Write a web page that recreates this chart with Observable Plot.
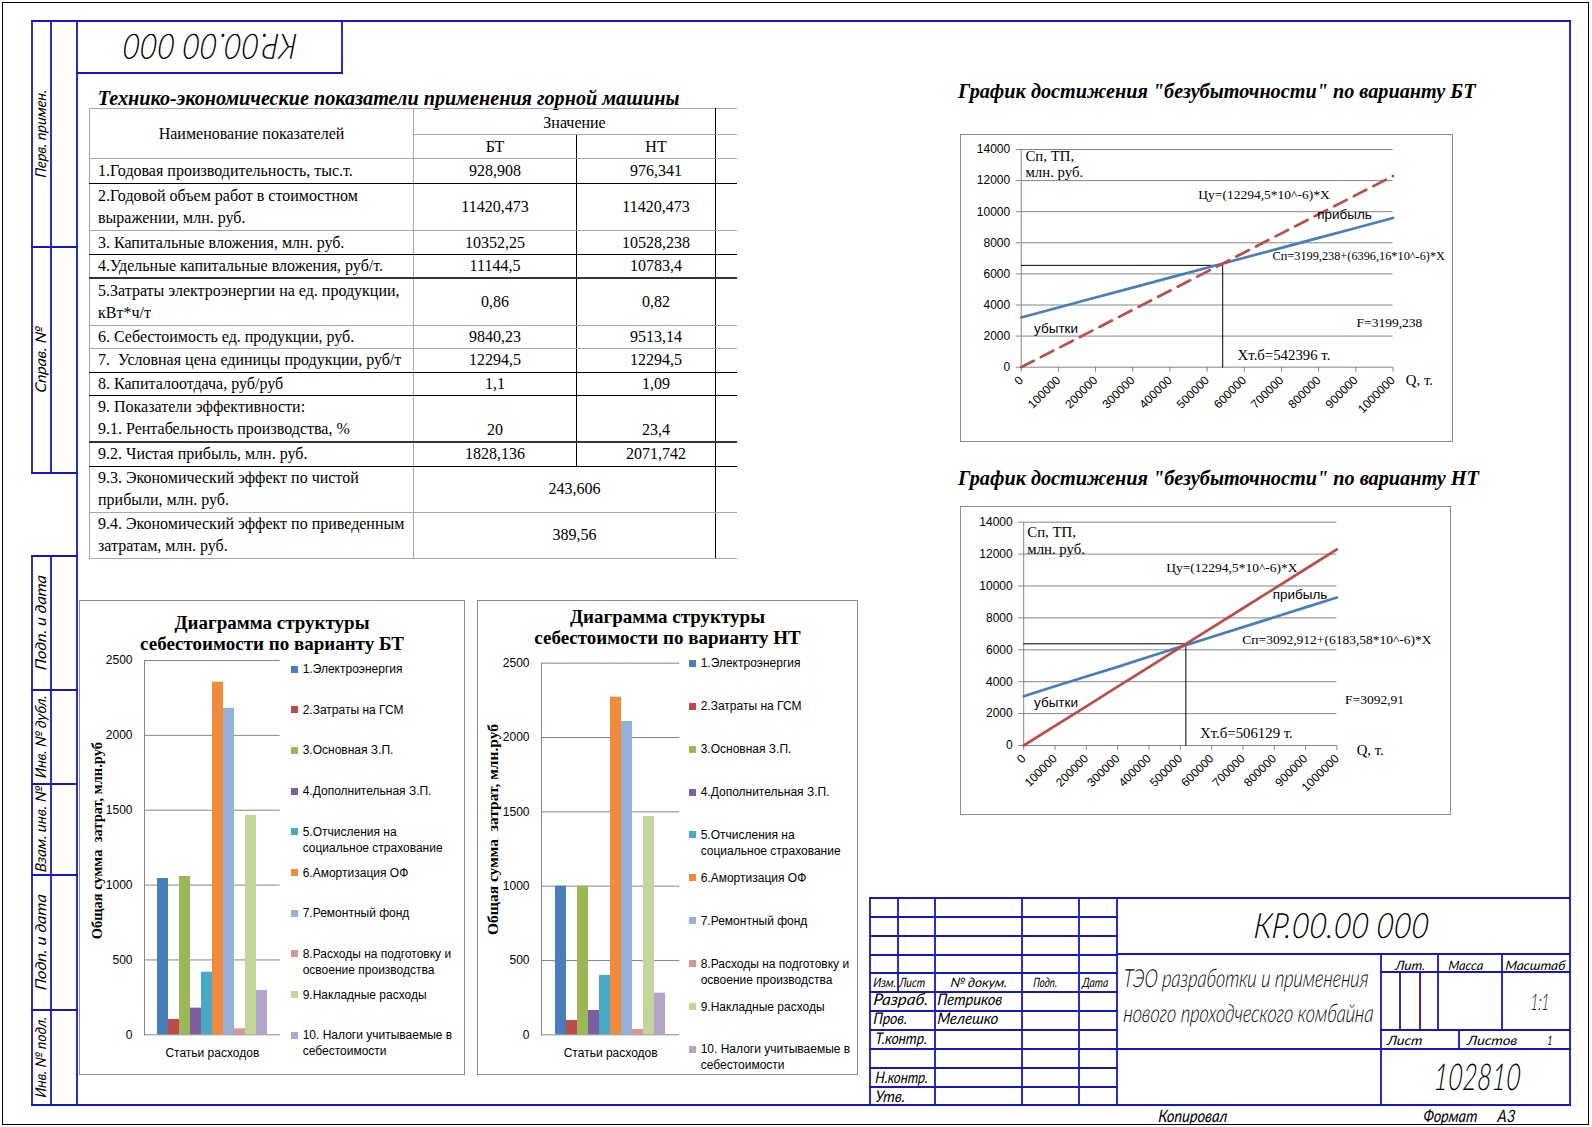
<!DOCTYPE html>
<html lang="ru"><head><meta charset="utf-8">
<script src="https://cdn.jsdelivr.net/npm/d3@7"></script>
<script src="https://cdn.jsdelivr.net/npm/@observablehq/plot@0.6"></script>
<style>
html,body{margin:0;padding:0;background:#fff}
#page{position:relative;width:1592px;height:1127px;overflow:hidden;background:#fff}
.abs{position:absolute}
.tbi{position:absolute;font-family:"Liberation Serif","Times New Roman",serif;font-weight:bold;font-style:italic;white-space:nowrap;color:#000;font-size:19px}
table.teo{position:absolute;border-collapse:collapse;table-layout:fixed;font-family:"Liberation Serif","Times New Roman",serif;font-size:16px;color:#000}
table.teo td{padding:0;white-space:pre;line-height:22px;vertical-align:middle;overflow:visible}
.box{position:absolute;border:1px solid #8c8c8c;box-sizing:border-box;background:#fff}
.btitle{position:absolute;font-family:"Liberation Serif","Times New Roman",serif;font-weight:bold;font-size:19px;line-height:21px;text-align:center;color:#000;white-space:pre}
.leg{position:absolute;font-family:"Liberation Sans",Arial,sans-serif;font-size:12px;line-height:16px;color:#000;white-space:pre}
.key{position:absolute;width:7px;height:7px}
</style></head>
<body><div id="page"></div>
<script>
// ---------------- DATA ----------------
const indicatorNames = [
  "1.Годовая производительность, тыс.т.",
  "2.Годовой объем работ в стоимостном\nвыражении, млн. руб.",
  "3. Капитальные вложения, млн. руб.",
  "4.Удельные капитальные вложения, руб/т.",
  "5.Затраты электроэнергии на ед. продукции,\nкВт*ч/т",
  "6. Себестоимость ед. продукции, руб.",
  "7.  Условная цена единицы продукции, руб/т",
  "8. Капиталоотдача, руб/руб",
  "9. Показатели эффективности:\n9.1. Рентабельность производства, %",
  "9.2. Чистая прибыль, млн. руб.",
  "9.3. Экономический эффект по чистой\nприбыли, млн. руб.",
  "9.4. Экономический эффект по приведенным\nзатратам, млн. руб."
];
const indicatorBT = ["928,908","11420,473","10352,25","11144,5","0,86","9840,23","12294,5","1,1","20","1828,136","243,606","389,56"];
const indicatorNT = ["976,341","11420,473","10528,238","10783,4","0,82","9513,14","12294,5","1,09","23,4","2071,742",null,null];

const costItems = [
  "1.Электроэнергия",
  "2.Затраты на ГСМ",
  "3.Основная З.П.",
  "4.Дополнительная З.П.",
  "5.Отчисления на\nсоциальное страхование",
  "6.Амортизация ОФ",
  "7.Ремонтный фонд",
  "8.Расходы на подготовку и\nосвоение производства",
  "9.Накладные расходы",
  "10. Налоги учитываемые в\nсебестоимости"
];
const costBT = [1044, 102, 1057, 178, 418, 2355, 2181, 40, 1465, 296];
const costNT = [1000, 96, 1000, 164, 399, 2271, 2108, 36, 1469, 280];
const costYTicks = [0, 500, 1000, 1500, 2000, 2500];

const qValues = [0,100000,200000,300000,400000,500000,600000,700000,800000,900000,1000000];
const beYTicks = [0,2000,4000,6000,8000,10000,12000,14000];
const priceBT = [0,1229,2459,3688,4918,6147,7377,8606,9836,11065,12295];
const costLineBT = [3199,3839,4478,5118,5758,6397,7037,7677,8316,8956,9595];
const priceNT = [0,1229,2459,3688,4918,6147,7377,8606,9836,11065,12295];
const costLineNT = [3093,3710,4330,4930,5560,6185,6803,7421,8040,8658,9277];
const guideBT = [{q:0,v:6550},{q:542000,v:6550},{q:542000,v:0}];
const guideNT = [{q:0,v:6375},{q:517700,v:6375},{q:517700,v:0}];
const notesBT = [
  {q:11500,v:13550,t:"Сп, ТП,"},{q:11500,v:12540,t:"млн. руб."},
  {q:476500,v:11100,t:"Цу=(12294,5*10^-6)*X"},
  {q:676000,v:7120,t:"Сп=3199,238+(6396,16*10^-6)*X"},
  {q:902000,v:2890,t:"F=3199,238"},
  {q:582000,v:790,t:"Хт.б=542396 т."},
  {q:1034600,v:-860,t:"Q, т."}
];
const notesBTsans = [{q:796000,v:9800,t:"прибыль"},{q:34600,v:2470,t:"убытки"}];
const notesNT = [
  {q:11400,v:13375,t:"Сп, ТП,"},{q:11400,v:12290,t:"млн. руб."},
  {q:455000,v:11140,t:"Цу=(12294,5*10^-6)*X"},
  {q:698000,v:6625,t:"Сп=3092,912+(6183,58*10^-6)*X"},
  {q:1026000,v:2863,t:"F=3092,91"},
  {q:563000,v:794,t:"Хт.б=506129 т."},
  {q:1063000,v:-313,t:"Q, т."}
];
const notesNTsans = [{q:795000,v:9447,t:"прибыль"},{q:33000,v:2675,t:"убытки"}];

// ---------------- STYLE ----------------
const SERIF = '"Liberation Serif","Times New Roman",serif';
const SANS = '"Liberation Sans",Arial,sans-serif';
const GOST = 'Lato,"DejaVu Sans",sans-serif';
const INK = "#1616c8";
const GRID = "#868686";
const costColors = ["#4A7EBB","#BE4B48","#98B954","#7D5FA0","#46AAC5","#F08A3C","#95B1D8","#DA9694","#C3D69B","#B3A5CA"];
const page = document.getElementById("page");

function el(tag, cls, css, parent = page) {
  const e = document.createElement(tag);
  if (cls) e.className = cls;
  Object.assign(e.style, css || {});
  parent.appendChild(e);
  return e;
}
function fitWidth(e, target) {
  const w = e.getBoundingClientRect().width;
  const fs = parseFloat(getComputedStyle(e).fontSize);
  e.style.fontSize = (fs * target / w) + "px";
}
function title(text, left, cy, target) {
  const t = el("div", "tbi", {left: left + "px", top: (cy - 12) + "px", lineHeight: "24px"});
  t.textContent = text;
  fitWidth(t, target);
}

// ---------------- TABLE ----------------
title("Технико-экономические показатели применения горной машины", 97.7, 98, 582);
{
  const G = "1px solid #a6a6a6", K = "1px solid #000", K2 = "2px solid #333";
  const rowH = [25,47,24,23,47,23,24,23,47,24,46,46];
  const rowB = [K,G,K,K2,G,G,K,K,K2,K,G,G];
  const tbl = el("table", "teo", {left: "89px", top: "108px", width: "647px"});
  const cg = document.createElement("colgroup");
  [324,163,139,21].forEach(w => { const c = document.createElement("col"); c.style.width = w + "px"; cg.appendChild(c); });
  tbl.appendChild(cg);
  const tb = document.createElement("tbody"); tbl.appendChild(tb);
  const td = (tr, text, css, attrs = {}) => { const c = document.createElement("td"); c.textContent = text ?? ""; Object.assign(c.style, css); Object.entries(attrs).forEach(([k,v]) => c.setAttribute(k, v)); tr.appendChild(c); return c; };
  let tr = document.createElement("tr"); tb.appendChild(tr); tr.style.height = "25px";
  td(tr, "Наименование показателей", {borderTop:G,borderLeft:G,borderRight:G,borderBottom:G,textAlign:"center"}, {rowspan:2});
  td(tr, "Значение", {borderTop:G,borderBottom:G,borderRight:K,textAlign:"center",paddingLeft:"20px",paddingTop:"3px"}, {colspan:2});
  td(tr, "", {borderTop:G,borderBottom:G});
  tr = document.createElement("tr"); tb.appendChild(tr); tr.style.height = "24px";
  td(tr, "БТ", {borderRight:K,borderBottom:G,textAlign:"center"});
  td(tr, "НТ", {borderRight:K,borderBottom:G,textAlign:"center",paddingLeft:"20px"});
  td(tr, "", {borderBottom:G});
  indicatorNames.forEach((name, i) => {
    tr = document.createElement("tr"); tb.appendChild(tr); tr.style.height = rowH[i] + "px";
    const b = rowB[i];
    td(tr, name, {borderLeft:G,borderRight:G,borderBottom:b,paddingLeft:"8px",textAlign:"left"});
    const va = i === 8 ? "bottom" : "middle";
    if (indicatorNT[i] === null) {
      td(tr, indicatorBT[i], {borderRight:K,borderBottom:b,textAlign:"center",paddingLeft:"20px"}, {colspan:2});
    } else {
      td(tr, indicatorBT[i], {borderRight:K,borderBottom:b,textAlign:"center",verticalAlign:va});
      td(tr, indicatorNT[i], {borderRight:K,borderBottom:b,textAlign:"center",paddingLeft:"20px",verticalAlign:va});
    }
    td(tr, "", {borderBottom:b});
  });
}

// ---------------- BREAK-EVEN CHARTS ----------------
function noteSize(t) {
  if (t.startsWith("Сп=3199")) return 12.3;
  if (t.startsWith("Сп=") || t.startsWith("Цу") || t.startsWith("F=")) return 13.5;
  return 14.8;
}
function breakEven(c) {
  const rows = qValues.map((q, i) => ({q, price: c.price[i], cost: c.cost[i]}));
  return Plot.plot({
    width: c.w, height: c.h,
    marginLeft: c.ml, marginRight: c.mr, marginTop: c.mt, marginBottom: c.mb,
    style: {background: "transparent", overflow: "visible", fontFamily: SANS, fontSize: "12px", color: "#000"},
    x: {domain: [0, 1000000]},
    y: {domain: [0, 14000]},
    marks: [
      Plot.ruleY(beYTicks, {stroke: GRID, strokeWidth: 1}),
      Plot.ruleX([0], {y1: 0, y2: 14000, stroke: GRID}),
      Plot.axisX({ticks: qValues, tickFormat: d => String(d), tickRotate: -45, tickSize: 5, tickPadding: 6, stroke: GRID, fill: "#000", label: null}),
      Plot.axisY({ticks: beYTicks, tickFormat: d => String(d), tickSize: 5, tickPadding: 6, stroke: GRID, fill: "#000", label: null}),
      Plot.line(c.guide, {x: "q", y: "v", stroke: "#000", strokeWidth: 1}),
      Plot.line(rows, {x: "q", y: "cost", stroke: "#4A7EBB", strokeWidth: 2.7}),
      Plot.line(rows, {x: "q", y: "price", stroke: "#BE4B48", strokeWidth: 2.7, strokeDasharray: c.dashed ? "14,8" : null}),
      Plot.text(c.notes, {x: "q", y: "v", text: "t", textAnchor: "start", fontFamily: SERIF, fontSize: d => noteSize(d.t), fill: "#000"}),
      Plot.text(c.notesSans, {x: "q", y: "v", text: "t", textAnchor: "start", fontFamily: SANS, fontSize: 13.5, fill: "#000"})
    ]
  });
}
title("График достижения \"безубыточности\" по варианту БТ", 958, 90.7, 518);
el("div", "box", {left: "960px", top: "134px", width: "493px", height: "308px"});
el("div", "abs", {left: "960px", top: "134px", width: "493px"}).appendChild(breakEven({
  w: 493, h: 308, ml: 60.7, mr: 60.5, mt: 15, mb: 75.3,
  price: priceBT, cost: costLineBT, dashed: true, guide: guideBT, notes: notesBT, notesSans: notesBTsans
}));
title("График достижения \"безубыточности\" по варианту НТ", 958, 478, 521);
el("div", "box", {left: "960px", top: "506px", width: "491px", height: "309px"});
el("div", "abs", {left: "960px", top: "506px", width: "491px"}).appendChild(breakEven({
  w: 491, h: 309, ml: 63.2, mr: 114.6, mt: 15.7, mb: 70,
  price: priceNT, cost: costLineNT, dashed: false, guide: guideNT, notes: notesNT, notesSans: notesNTsans
}));

// ---------------- COST STRUCTURE CHARTS ----------------
function costChart(c) {
  const rows = costItems.map((name, i) => ({name, value: c.values[i]}));
  return Plot.plot({
    width: c.w, height: c.h,
    marginLeft: c.ml, marginRight: c.mr, marginTop: c.mt, marginBottom: c.mb,
    style: {background: "transparent", overflow: "visible", fontFamily: SANS, fontSize: "12px", color: "#000"},
    x: {domain: costItems, paddingInner: 0, paddingOuter: 0.855, axis: null},
    y: {domain: [0, 2500]},
    color: {domain: costItems, range: costColors},
    marks: [
      Plot.ruleY(costYTicks, {stroke: GRID}),
      Plot.barY(rows, {x: "name", y: "value", fill: "name", insetLeft: 0, insetRight: 0}),
      Plot.frame({anchor: "left", stroke: GRID}),
      Plot.axisY({ticks: costYTicks, tickFormat: d => String(d), tickSize: 0, tickPadding: 12, fill: "#000", label: null}),
      Plot.text(["Статьи расходов"], {frameAnchor: "bottom", dy: 22.4, fontFamily: SANS, fontSize: 12, fill: "#000"}),
      Plot.text(["Общая сумма  затрат, млн.руб"], {frameAnchor: "left", textAnchor: "middle", rotate: -90, dx: c.ydx, dy: c.ydy, fontFamily: SERIF, fontWeight: "bold", fontSize: c.yfs, fill: "#000"})
    ]
  });
}
function costLegend(keyLeft, textLeft, top0, step) {
  costItems.forEach((name, i) => {
    const cy = top0 + i * step;
    el("div", "key", {left: keyLeft + "px", top: (cy - 3.5) + "px", background: costColors[i]});
    el("div", "leg", {left: textLeft + "px", top: (cy - 8) + "px"}).textContent = name;
  });
}
// BT
el("div", "box", {left: "79px", top: "600px", width: "386px", height: "475px"});
el("div", "btitle", {left: "79px", top: "611.5px", width: "386px"}).textContent = "Диаграмма структуры\nсебестоимости по варианту БТ";
el("div", "abs", {left: "79px", top: "648px", width: "215px"}).appendChild(costChart({
  w: 215, h: 427, ml: 65, mr: 14.3, mt: 12, mb: 40.7, values: costBT, ydx: -47.3, ydy: -7, yfs: 14.5
}));
costLegend(291, 302.7, 669, 40.7);
// NT
el("div", "box", {left: "477px", top: "600px", width: "381px", height: "475px"});
el("div", "btitle", {left: "477px", top: "606px", width: "381px"}).textContent = "Диаграмма структуры\nсебестоимости по варианту НТ";
el("div", "abs", {left: "474px", top: "648px", width: "220px"}).appendChild(costChart({
  w: 220, h: 427, ml: 67, mr: 14.7, mt: 14.7, mb: 40.7, values: costNT, ydx: -48, ydy: -19.5, yfs: 15.5
}));
costLegend(688.5, 700.7, 663.3, 42.9);

// ---------------- DRAWING FRAME & TITLE BLOCK ----------------
const svg = d3.select(page).append("svg").attr("class", "abs")
  .attr("width", 1592).attr("height", 1127).style("left", 0).style("top", 0).style("pointer-events", "none");
svg.append("rect").attr("x", 2.5).attr("y", 2.5).attr("width", 1586).attr("height", 1122).attr("fill", "none").attr("stroke", "#000").attr("stroke-width", 1);
const R = 1570;
const frameLines = [
  [32,21,R,21],[77,21,77,1105],[R,21,R,1105],[32,1105,R,1105],
  [32,21,32,473],[51,21,51,473],[32,247,77,247],[32,473,77,473],
  [32,556,32,1105],[51,556,51,1105],[32,556,77,556],[32,690,77,690],[32,784,77,784],[32,875,77,875],[32,1010,77,1010],
  [342,21,342,73],[77,73,342,73],
  [870,898,R,898],[870,898,870,1105],
  [898,898,898,992],[935,898,935,1105],[1022,898,1022,1105],[1079,898,1079,1105],[1117,898,1117,1105],
  ...[917,936,955,973,992,1011,1030,1049,1068,1087].map(y => [870,y,1117,y]),
  [1117,954,R,954],[1381,954,1381,1105],[1381,972,R,972],[1381,1030,R,1030],[1117,1049,R,1049],
  [1438,954,1438,1030],[1502,954,1502,1030],[1459,1030,1459,1049],[1400,972,1400,1030],[1420,972,1420,1030]
];
svg.append("g").attr("stroke", INK).attr("stroke-width", 1.8).attr("stroke-linecap", "square")
  .selectAll("line").data(frameLines).join("line")
  .attr("x1", d => d[0]).attr("y1", d => d[1]).attr("x2", d => d[2]).attr("y2", d => d[3]);

const tg = svg.append("g").attr("fill", "#000").attr("font-family", GOST).attr("font-style", "italic");
// GOST-like narrow lettering: real text, horizontally compressed to the measured width
function gost(x, y, str, size, w, anchor = "start", rotate = 0, rc = null) {
  const g = tg.append("g");
  const t = g.append("text").attr("font-size", size).attr("font-weight", size >= 20 ? 300 : 400).attr("text-anchor", anchor).text(str);
  const nat = t.node().getComputedTextLength();
  const sx = w ? w / nat : 0.75;
  let tr = `translate(${x},${y}) scale(${sx},1) skewX(-6)`;
  if (rotate) tr = `rotate(${rotate},${rc ? rc[0] : x},${rc ? rc[1] : y}) ` + tr;
  g.attr("transform", tr);
}
gost(211, 59, "КР.00.00 000", 35, 174, "middle", 180, [211, 46.5]);
// side strip
[["Перв. примен.", 134, 88], ["Справ. №", 360, 66], ["Подп. и дата", 623, 95], ["Инв. № дубл.", 737, 83],
 ["Взам. инв. №", 829.5, 86], ["Подп. и дата", 942.5, 96], ["Инв. № подл.", 1057.5, 81]]
  .forEach(([s, cy, w]) => gost(46, cy, s, 15, w, "middle", -90));
// title block
gost(1253, 938, "КР.00.00 000", 35, 175);
gost(1123, 986.7, "ТЭО разработки и применения", 25, 245);
gost(1123, 1021.7, "нового проходческого комбайна", 25, 250);
gost(1395, 970, "Лит.", 13, 30); gost(1448, 970, "Масса", 13, 35); gost(1505, 970, "Масштаб", 13, 60);
gost(1530, 1010, "1:1", 23, 19);
gost(1387, 1045, "Лист", 13, 35); gost(1467, 1045, "Листов", 13, 50); gost(1547, 1045, "1", 13, 5);
gost(1433, 1090, "102810", 37, 87);
gost(873, 986.7, "Изм.", 13, 23); gost(899, 986.7, "Лист", 13, 26); gost(950, 986.7, "№ докум.", 13, 57);
gost(1033, 986.7, "Подп.", 13, 24); gost(1082, 986.7, "Дата", 13, 26);
gost(873, 1005, "Разраб.", 16, 55); gost(937, 1005, "Петриков", 16, 65);
gost(873, 1024, "Пров.", 16, 34); gost(937, 1024, "Мелешко", 16, 61);
gost(875, 1044, "Т.контр.", 16, 52);
gost(875, 1083, "Н.контр.", 16, 53);
gost(875, 1101.7, "Утв.", 16, 30);
gost(1158, 1121.7, "Копировал", 17, 69);
gost(1423, 1121.7, "Формат", 17, 54); gost(1497, 1121.7, "А3", 17, 18);
</script></body></html>
